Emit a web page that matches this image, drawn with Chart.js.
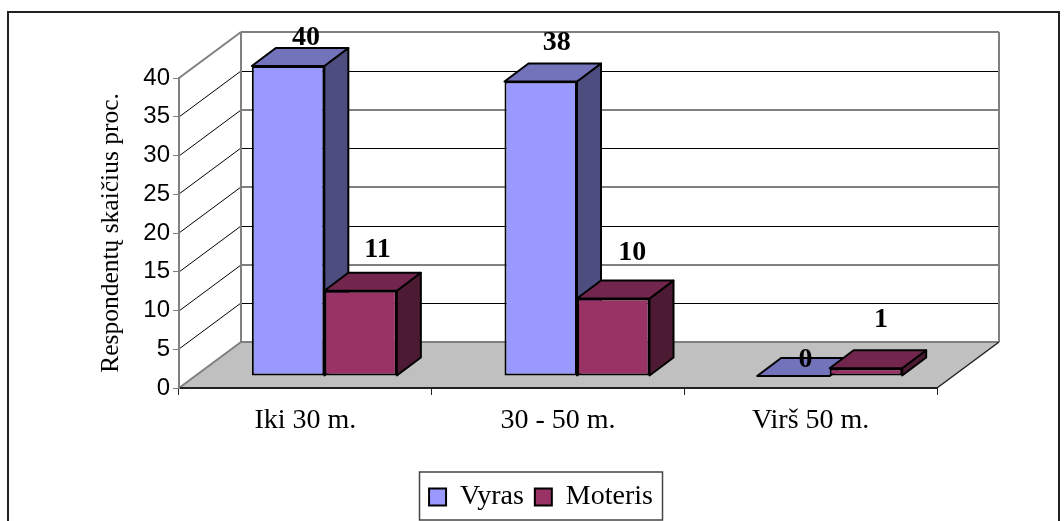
<!DOCTYPE html>
<html>
<head>
<meta charset="utf-8">
<style>
body { margin: 0; background: #fff; }
canvas { display: block; }
</style>
<script src="https://cdn.jsdelivr.net/npm/chart.js@4"></script>
</head>
<body>
<canvas id="barChart" width="1064" height="521"></canvas>
<script>
// Data
const categories = ['Iki 30 m.', '30 - 50 m.', 'Virš 50 m.'];
const vyras = [40, 38, 0];
const moteris = [11, 10, 1];
const yMax = 40;
const yStep = 5;

// Colours: front, top and side of the bars
const faces = [
    { front: '#9999FF', top: '#7373BC', side: '#4D4D80' },
    { front: '#993366', top: '#73264D', side: '#4D1A33' }
];
const gray = '#808080';
const serif = "'Liberation Serif', serif";

// 3D look: wall sits behind the axes, bars sit between wall and axes
const wallX = 62, wallY = 46;
const barShiftX = 19, barShiftY = -12;
const barDepthX = 24, barDepthY = 18;

// The labels were placed by hand in the original, so nudge each one
const labelNudge = [
    [[18, -28], [16, -39], [12, -16]],
    [[17, -41], [19, -46], [15, -48]]
];

function line(ctx, x1, y1, x2, y2, color, width) {
    ctx.beginPath();
    ctx.moveTo(x1, y1);
    ctx.lineTo(x2, y2);
    ctx.strokeStyle = color;
    ctx.lineWidth = width;
    ctx.stroke();
}

function poly(ctx, pts, fill) {
    ctx.beginPath();
    pts.forEach((p, i) => i ? ctx.lineTo(p[0], p[1]) : ctx.moveTo(p[0], p[1]));
    ctx.closePath();
    ctx.fillStyle = fill;
    ctx.fill();
    ctx.strokeStyle = '#000';
    ctx.lineWidth = 2;
    ctx.lineJoin = 'round';
    ctx.stroke();
}

const frame3d = {
    id: 'frame3d',
    afterLayout(chart) {
        // move the legend under the plot, where the original has it
        chart.legend.left = 0;
        chart.legend.right = 1082;
        chart.legend.top = 472;
    },
    beforeDraw(chart) {
        const ctx = chart.ctx;
        const a = chart.chartArea;
        const y = chart.scales.y;
        ctx.save();

        // outer frame, runs off the bottom of the picture
        ctx.strokeStyle = '#222';
        ctx.lineWidth = 2;
        ctx.strokeRect(8, 12, 1051, 600);

        // floor
        ctx.beginPath();
        ctx.moveTo(a.left, a.bottom);
        ctx.lineTo(a.left + wallX, a.bottom - wallY);
        ctx.lineTo(a.right + wallX, a.bottom - wallY);
        ctx.lineTo(a.right, a.bottom);
        ctx.closePath();
        ctx.fillStyle = '#C0C0C0';
        ctx.fill();

        // wall lines, snapped to whole pixels so the thin ones stay black
        y.ticks.forEach((t, i) => {
            const py = Math.round(y.getPixelForValue(t.value));
            const edge = t.value === 0 || t.value === yMax;
            line(ctx, a.left, py, a.left + wallX, py - wallY, edge ? gray : '#000', edge ? 2 : 1);
            const even = i % 2 === 0;
            const wy = py - wallY + (even ? 0 : 0.5);
            line(ctx, a.left + wallX, wy, a.right + wallX, wy, even ? gray : '#000', even ? 2 : 1);
        });
        line(ctx, a.left + wallX, a.top - wallY, a.left + wallX, a.bottom - wallY, gray, 2);
        line(ctx, a.right + wallX, a.top - wallY, a.right + wallX, a.bottom - wallY, gray, 2);
        line(ctx, a.right, a.bottom, a.right + wallX, a.bottom - wallY, '#222', 1.5);

        // legend box
        ctx.strokeStyle = '#444';
        ctx.lineWidth = 1.5;
        ctx.strokeRect(419.5, 472, 243, 48);
        ctx.restore();
    },
    beforeDatasetsDraw(chart) {
        const ctx = chart.ctx;
        ctx.save();
        // everything of the bars stands further back than the axis plane
        ctx.translate(barShiftX, barShiftY);
        chart.data.datasets.forEach((ds, d) => {
            chart.getDatasetMeta(d).data.forEach(bar => {
                const l = bar.x - bar.width / 2, r = bar.x + bar.width / 2;
                const t = bar.y, b = bar.base;
                poly(ctx, [[r, t], [r + barDepthX, t - barDepthY], [r + barDepthX, b - barDepthY], [r, b]], faces[d].side);
                poly(ctx, [[l, t], [l + barDepthX, t - barDepthY], [r + barDepthX, t - barDepthY], [r, t]], faces[d].top);
            });
        });
    },
    afterDatasetsDraw(chart) {
        const ctx = chart.ctx;
        ctx.restore();
        ctx.save();
        ctx.font = "bold 28px " + serif;
        ctx.fillStyle = '#000';
        ctx.textAlign = 'center';
        ctx.textBaseline = 'middle';
        chart.data.datasets.forEach((ds, d) => {
            chart.getDatasetMeta(d).data.forEach((bar, i) => {
                const n = labelNudge[d][i];
                ctx.fillText(ds.data[i], bar.x + barShiftX + n[0], bar.y + barShiftY + n[1]);
            });
        });
        ctx.restore();
    }
};

// Create the bar chart
const myChart = new Chart(document.getElementById('barChart').getContext('2d'), {
    type: 'bar',
    data: {
        labels: categories,
        datasets: [
            { label: 'Vyras', data: vyras, backgroundColor: faces[0].front, borderColor: '#000', borderWidth: 2, borderSkipped: false, clip: false },
            { label: 'Moteris', data: moteris, backgroundColor: faces[1].front, borderColor: '#000', borderWidth: 2, borderSkipped: false, clip: false }
        ]
    },
    plugins: [frame3d],
    options: {
        responsive: false,
        animation: false,
        categoryPercentage: 0.574,
        barPercentage: 1,
        layout: { padding: { left: 0, right: 127, top: 78, bottom: 0 } },
        plugins: {
            tooltip: { enabled: false },
            title: { display: false },
            legend: {
                position: 'bottom',
                maxHeight: 40,
                labels: {
                    boxWidth: 17,
                    boxHeight: 17,
                    padding: 11,
                    color: '#000',
                    font: { family: serif, size: 28 }
                }
            }
        },
        scales: {
            x: {
                afterFit(s) { s.height = 93; },
                border: { color: '#222', width: 2 },
                grid: { drawOnChartArea: false, color: '#222', tickLength: 7 },
                ticks: {
                    color: '#000',
                    padding: 9,
                    maxRotation: 0,
                    autoSkip: false,
                    font: { family: serif, size: 28 }
                }
            },
            y: {
                min: 0,
                max: yMax,
                afterFit(s) { s.width = 179; },
                border: { color: gray, width: 2 },
                grid: { drawOnChartArea: false, color: gray, tickLength: 6 },
                ticks: {
                    stepSize: yStep,
                    color: '#000',
                    padding: 3,
                    font: { family: "'Liberation Sans', sans-serif", size: 24 }
                },
                title: {
                    display: true,
                    text: 'Respondentų skaičius proc.',
                    color: '#000',
                    padding: { top: 96, bottom: 0 },
                    font: { family: serif, size: 25.5 }
                }
            }
        }
    }
});
</script>
</body>
</html>
